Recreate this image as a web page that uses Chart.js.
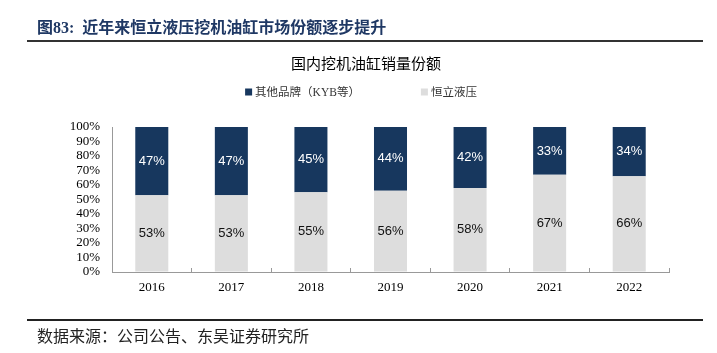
<!DOCTYPE html>
<html lang="zh-CN">
<head>
<meta charset="UTF-8" />
<title>国内挖机油缸销量份额</title>
<script src="https://cdn.jsdelivr.net/npm/chart.js@4/dist/chart.umd.min.js"></script>
<style>
  html, body { margin: 0; padding: 0; background: #fff; }
  #wrap { position: relative; width: 717px; height: 353px; overflow: hidden; }
  #chart { position: absolute; left: 0; top: 0; }
  .head {
    position: absolute; left: 37px; top: 14px; line-height: 21px;
    font: bold 16px "Liberation Serif", "Noto Sans CJK SC", serif;
    color: #1f3864; white-space: pre;
  }
  .rule { position: absolute; left: 27px; width: 676px; background: #333; }
  .rule.top { top: 40px; height: 2px; }
  .rule.bottom { top: 319px; height: 2px; background: #222; }
  .src {
    position: absolute; left: 37px; top: 323px; line-height: 21px;
    font: 16px "Noto Sans CJK SC", sans-serif; color: #222; white-space: pre;
  }
</style>
</head>
<body>
<div id="wrap">
  <canvas id="chart" width="717" height="353"></canvas>
  <div class="head">图83:  近年来恒立液压挖机油缸市场份额逐步提升</div>
  <div class="rule top"></div>
  <div class="rule bottom"></div>
  <div class="src">数据来源：公司公告、东吴证券研究所</div>
</div>
<script>
// 年份与两组份额（%），自下而上堆叠：恒立液压在下，其他品牌在上
const years = ['2016', '2017', '2018', '2019', '2020', '2021', '2022'];
const hengliShare = [53, 53, 55, 56, 58, 67, 66];
const otherShare = [47, 47, 45, 44, 42, 33, 34];
const yTicks = [0, 10, 20, 30, 40, 50, 60, 70, 80, 90, 100];

const NAVY = '#17375e';
const GREY = '#dddddd';
const AXIS = '#999999';
const SERIF = '"Liberation Serif", "Noto Sans CJK SC", serif';
const CJK = '"Noto Sans CJK SC", "Liberation Serif", sans-serif';

// 柱内百分比标签：上段白字，下段黑字
const barLabels = {
  id: 'barLabels',
  afterDatasetsDraw(chart) {
    const ctx = chart.ctx;
    ctx.save();
    ctx.font = '13px "Liberation Sans", Arial, sans-serif';
    ctx.textAlign = 'center';
    ctx.textBaseline = 'middle';
    chart.data.datasets.forEach((ds, di) => {
      const meta = chart.getDatasetMeta(di);
      ctx.fillStyle = ds.labelColor;
      meta.data.forEach((bar, i) => {
        const { x, y, base } = bar.getProps(['x', 'y', 'base'], true);
        ctx.fillText(ds.data[i] + '%', x, (y + base) / 2);
      });
    });
    ctx.restore();
  },
};

// 图例：顺序与原图一致（其他品牌在前）
const topLegend = {
  id: 'topLegend',
  afterDraw(chart) {
    const ctx = chart.ctx;
    const items = chart.data.datasets.slice().reverse();
    const box = 7, gap = 3, between = 61, cy = 92;
    ctx.save();
    ctx.font = '11.5px ' + SERIF;
    ctx.textBaseline = 'middle';
    const widths = items.map((d) => box + gap + ctx.measureText(d.label).width);
    const total = widths.reduce((s, w) => s + w, 0) + between * (items.length - 1);
    let x = 361 - total / 2;
    items.forEach((d, i) => {
      ctx.fillStyle = d.backgroundColor;
      ctx.fillRect(x, cy - box / 2, box, box);
      ctx.fillStyle = '#333';
      ctx.textAlign = 'left';
      ctx.fillText(d.label, x + box + gap, cy + 0.5);
      x += widths[i] + between;
    });
    ctx.restore();
  },
};

new Chart(document.getElementById('chart'), {
  type: 'bar',
  data: {
    labels: years,
    datasets: [
      {
        label: '恒立液压',
        data: hengliShare,
        backgroundColor: GREY,
        labelColor: '#111',
        categoryPercentage: 1,
        barPercentage: 0.415,
      },
      {
        label: '其他品牌（KYB等）',
        data: otherShare,
        backgroundColor: NAVY,
        labelColor: '#fff',
        categoryPercentage: 1,
        barPercentage: 0.415,
      },
    ],
  },
  options: {
    responsive: false,
    animation: false,
    layout: { padding: { left: 63, right: 48, top: 0, bottom: 0 } },
    scales: {
      x: {
        stacked: true,
        offset: true,
        grid: {
          display: true,
          offset: true,
          drawOnChartArea: false,
          drawTicks: true,
          tickLength: -4,
          color: AXIS,
        },
        border: { display: true, color: AXIS, width: 1 },
        ticks: { color: '#000', padding: 12, font: { family: SERIF, size: 13 } },
        afterFit: (scale) => { scale.height = 81; },
      },
      y: {
        stacked: true,
        min: 0,
        max: 100,
        afterBuildTicks: (scale) => { scale.ticks = yTicks.map((v) => ({ value: v })); },
        grid: { display: true, drawOnChartArea: false, drawTicks: false },
        border: { display: true, color: AXIS, width: 1 },
        ticks: {
          autoSkip: false,
          color: '#000',
          padding: 12,
          font: { family: SERIF, size: 13 },
          callback: (v) => v + '%',
        },
        afterFit: (scale) => { scale.width = 49; },
      },
    },
    plugins: {
      legend: { display: false },
      tooltip: { enabled: false },
      title: {
        display: true,
        text: '国内挖机油缸销量份额',
        color: '#000',
        font: { family: CJK, size: 15, weight: 'normal' },
        padding: { top: 54, bottom: 55 },
      },
    },
  },
  plugins: [barLabels, topLegend],
});
</script>
</body>
</html>
